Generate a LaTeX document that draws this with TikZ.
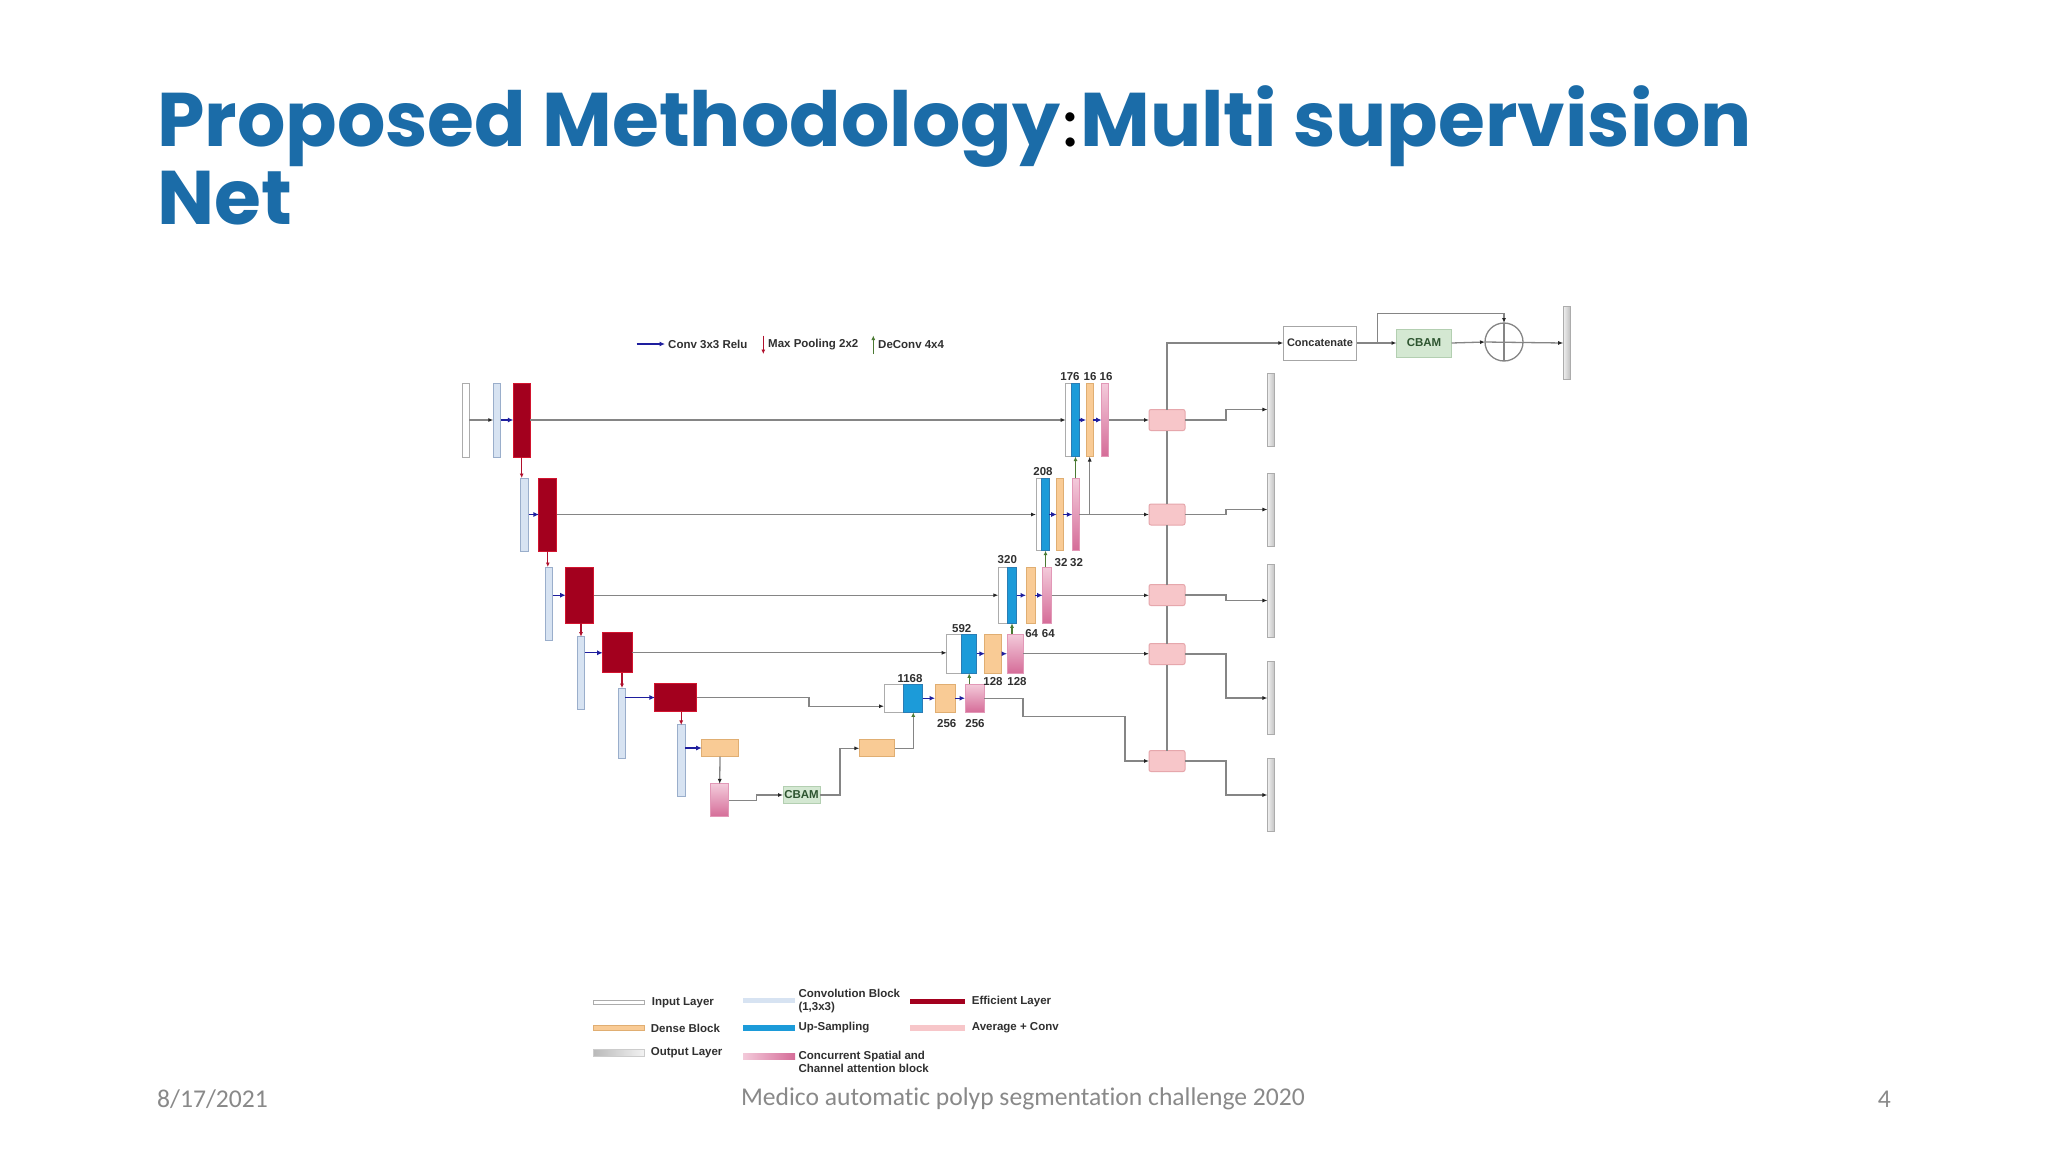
\documentclass[tikz,border=0pt]{standalone}
\usepackage{fontspec}
\setmainfont{Liberation Sans}
\newfontfamily\titlefont{Poppins}
\newfontfamily\footfont[Ligatures=NoCommon]{Carlito}
\usetikzlibrary{positioning, calc, arrows.meta}

\definecolor{titleblue}{HTML}{1B6CA8}
\definecolor{effred}{HTML}{A3001E}
\definecolor{effedge}{HTML}{D2142E}
\definecolor{convfill}{HTML}{D7E3F2}
\definecolor{convedge}{HTML}{9AAECB}
\definecolor{upfill}{HTML}{1C9BD9}
\definecolor{upedge}{HTML}{2A7DB5}
\definecolor{densefill}{HTML}{F9CB95}
\definecolor{denseedge}{HTML}{E0AE72}
\definecolor{csatop}{HTML}{F3CADA}
\definecolor{csabot}{HTML}{D56C98}
\definecolor{avgfill}{HTML}{F7C6C9}
\definecolor{avgedge}{HTML}{E6A7AC}
\definecolor{cbamfill}{HTML}{D4E8D2}
\definecolor{cbamedge}{HTML}{B3CFB1}
\definecolor{cbamtext}{HTML}{2E5530}
\definecolor{linegray}{HTML}{858585}
\definecolor{convarrow}{HTML}{1E1E9E}
\definecolor{poolarrow}{HTML}{B0102C}
\definecolor{deconvarrow}{HTML}{4B7A33}
\definecolor{txtgray}{HTML}{303030}
\definecolor{footgray}{HTML}{898989}

\tikzset{
  blk/.style={inner sep=0pt, outer sep=0pt, line width=1pt},
  inlayer/.style={blk, draw=gray!65, fill=white},
  convblk/.style={blk, draw=convedge, fill=convfill},
  efflayer/.style={blk, draw=effedge, fill=effred},
  denseblk/.style={blk, draw=denseedge, fill=densefill},
  upsamp/.style={blk, draw=upedge, fill=upfill},
  csablk/.style={blk, draw=csabot!70, top color=csatop, bottom color=csabot},
  avgconv/.style={blk, draw=avgedge, fill=avgfill, rounded corners=2pt},
  outlayer/.style={blk, draw=gray!65, left color=gray!12, right color=gray!50},
  cbamblk/.style={blk, draw=cbamedge, fill=cbamfill, text=cbamtext,
    font=\fontsize{11.5}{13}\selectfont\bfseries},
  lbl/.style={inner sep=0pt, text=txtgray, font=\fontsize{11.5}{13}\selectfont\bfseries},
  gwire/.style={draw=linegray, line width=1.3pt},
  garrow/.style={gwire, -{Latex[length=5pt,width=4pt,color=black!85]}},
  convarr/.style={draw=convarrow, line width=1.3pt, -{Latex[length=5.5pt,width=5pt]}},
  poolarr/.style={draw=poolarrow, line width=1.1pt, -{Latex[length=4.5pt,width=4pt]}},
  deconvarr/.style={draw=deconvarrow, line width=1.1pt, -{Latex[length=4.5pt,width=4pt]}},
  titletext/.style={anchor=base west, inner sep=0pt, text=titleblue,
    font=\titlefont\fontsize{76}{76}\selectfont\bfseries},
  footer/.style={inner sep=0pt, text=footgray, font=\footfont\fontsize{25.6}{30}\selectfont}
}

\begin{document}
\begin{tikzpicture}[x=1pt, y=-1pt]
\useasboundingbox[fill=white] (0,0) rectangle (2048,1152);

% title
\node[titletext] (title1) at (157,146)
  {Proposed Methodology{\color{black}\footfont\mdseries:}Multi supervision};
\node[titletext] (title2) at (157,224.6) {Net};

% legend on top
\coordinate (lga) at (636.7,344); \coordinate (lgb) at (665,344);
\draw[convarr] (lga) -- (lgb);
\node[lbl, anchor=west] (lgconv) at (668,344) {Conv 3x3 Relu};
\coordinate (lgc) at (763.3,335.5); \coordinate (lgd) at (763.3,354);
\draw[poolarr] (lgc) -- (lgd);
\node[lbl, anchor=west] (lgpool) at (768,345) {Max Pooling 2x2};
\coordinate (lge) at (873.3,354); \coordinate (lgf) at (873.3,335.5);
\draw[deconvarr] (lge) -- (lgf);
\node[lbl, anchor=west] (lgdeconv) at (878,345) {DeConv 4x4};

% encoder
\node[inlayer, minimum width=6.5, minimum height=74] (in0) at (466.2,420) {};
\node[convblk, minimum width=7.4, minimum height=74] (cv1) at (497,420) {};
\node[efflayer, minimum width=16.7, minimum height=74] (ef1) at (521.7,420) {};
\node[convblk, minimum width=8, minimum height=73] (cv2) at (524.7,514.5) {};
\node[efflayer, minimum width=17.7, minimum height=73] (ef2) at (547.8,514.5) {};
\node[convblk, minimum width=6.7, minimum height=73] (cv3) at (549.3,603.5) {};
\node[efflayer, minimum width=28.3, minimum height=56.3] (ef3) at (579.8,595.2) {};
\node[convblk, minimum width=7.4, minimum height=72.6] (cv4) at (581,673) {};
\node[efflayer, minimum width=29.6, minimum height=39.7] (ef4) at (617.5,652.8) {};
\node[convblk, minimum width=6.6, minimum height=70.3] (cv5) at (622,723.2) {};
\node[efflayer, minimum width=41.7, minimum height=28.4] (ef5) at (675.8,697.5) {};
\node[convblk, minimum width=7.7, minimum height=71.7] (cv6) at (681.2,760.8) {};
\node[denseblk, minimum width=36.6, minimum height=17.4] (bdense) at (720,748) {};
\node[csablk, minimum width=18, minimum height=32.7] (bcsa) at (719.7,800.3) {};
\node[cbamblk, minimum width=37, minimum height=16.6] (bcbam) at (801.5,795) {CBAM};
\node[denseblk, minimum width=35.4, minimum height=16.7] (bdense2) at (877,748.3) {};

\draw[garrow] (in0.east) -- (cv1.west);
\draw[convarr] (cv1.east) -- (ef1.west);
\draw[poolarr] (ef1.south) -- (ef1.south |- cv2.north);
\draw[convarr] (cv2.east) -- (ef2.west);
\draw[poolarr] (ef2.south) -- (ef2.south |- cv3.north);
\draw[convarr] (cv3.east |- ef3.west) -- (ef3.west);
\draw[poolarr] (cv4.north |- ef3.south) -- (cv4.north);
\draw[convarr] (cv4.east |- ef4.west) -- (ef4.west);
\draw[poolarr] (cv5.north |- ef4.south) -- (cv5.north);
\draw[convarr] (cv5.east |- ef5.west) -- (ef5.west);
\draw[poolarr] (cv6.north |- ef5.south) -- (cv6.north);
\draw[convarr] (cv6.east |- bdense.west) -- (bdense.west);
\draw[garrow] (bdense.south) -- (bcsa.north);
\draw[garrow] (bcsa.east) -- ++(28,0) |- (bcbam.west);
\draw[garrow] (bcbam.east) -- ++(20,0) |- (bdense2.west);

% decoder
\node[inlayer, minimum width=6, minimum height=73] (cat1) at (1068.7,420) {};
\node[upsamp, minimum width=7.6, minimum height=73] (up1) at (1075.5,420) {};
\node[denseblk, minimum width=7.3, minimum height=73] (dd1) at (1089.7,420) {};
\node[csablk, minimum width=7.3, minimum height=73] (ca1) at (1105.3,420) {};
\node[inlayer, minimum width=5.7, minimum height=72.4] (cat2) at (1038.9,514.5) {};
\node[upsamp, minimum width=7.6, minimum height=72.4] (up2) at (1045.5,514.5) {};
\node[denseblk, minimum width=6.6, minimum height=72.4] (dd2) at (1060,514.5) {};
\node[csablk, minimum width=7, minimum height=72.4] (ca2) at (1075.8,514.5) {};
\node[inlayer, minimum width=9, minimum height=56] (cat3) at (1002.8,595.3) {};
\node[upsamp, minimum width=9.4, minimum height=56] (up3) at (1012,595.3) {};
\node[denseblk, minimum width=9, minimum height=56] (dd3) at (1030.5,595.3) {};
\node[csablk, minimum width=9, minimum height=56] (ca3) at (1047.2,595.3) {};
\node[inlayer, minimum width=15, minimum height=39.3] (cat4) at (954.2,653.7) {};
\node[upsamp, minimum width=15, minimum height=39.3] (up4) at (969.2,653.7) {};
\node[denseblk, minimum width=16.7, minimum height=39.3] (dd4) at (993.3,653.7) {};
\node[csablk, minimum width=16, minimum height=39.3] (ca4) at (1015,653.7) {};
\node[inlayer, minimum width=20, minimum height=28.3] (cat5) at (894,698.2) {};
\node[upsamp, minimum width=18.7, minimum height=28.3] (up5) at (913.3,698.2) {};
\node[denseblk, minimum width=20, minimum height=28.3] (dd5) at (945,698.2) {};
\node[csablk, minimum width=19, minimum height=28.3] (ca5) at (974.5,698.2) {};

\node[lbl] (n176) at (1070,376.7) {176};
\node[lbl] (n16a) at (1090,377) {16};
\node[lbl] (n16b) at (1106,377) {16};
\node[lbl] (n208) at (1043,471.7) {208};
\node[lbl] (n32a) at (1061,562.5) {32};
\node[lbl] (n32b) at (1076.5,562.5) {32};
\node[lbl] (n320) at (1007.3,560) {320};
\node[lbl] (n64a) at (1031.7,633.3) {64};
\node[lbl] (n64b) at (1048.3,633.3) {64};
\node[lbl] (n592) at (961.7,629) {592};
\node[lbl] (n128a) at (993,681.7) {128};
\node[lbl] (n128b) at (1017,681.7) {128};
\node[lbl] (n1168) at (910,678.3) {1168};
\node[lbl] (n256a) at (946.7,723.3) {256};
\node[lbl] (n256b) at (975,723.3) {256};

% skip connections
\draw[garrow] (ef1.east) -- (cat1.west);
\draw[garrow] (ef2.east) -- (cat2.west);
\draw[garrow] (ef3.east) -- (ef3.east -| cat3.west);
\draw[garrow] (ef4.east) -- (ef4.east -| cat4.west);
\draw[garrow] (ef5.east) -- ++(112.3,0) |- ([yshift=-8pt]cat5.west);
\draw[gwire, -{Latex[length=4.5pt,width=4pt,color=deconvarrow]}] (bdense2.east) -| (up5.south);

\foreach \k in {1,...,5}{
  \draw[convarr] (up\k.east) -- (dd\k.west);
  \draw[convarr] (dd\k.east) -- (ca\k.west);
}
\draw[deconvarr] (up4.south |- ca5.north) -- (up4.south);
\draw[deconvarr] (up3.south |- ca4.north) -- (up3.south);
\draw[deconvarr] (up2.south |- ca3.north) -- (up2.south);
\draw[deconvarr] (up1.south |- ca2.north) -- (up1.south);

% multi supervision
\node[avgconv, minimum width=36, minimum height=21] (av1) at (1167,420) {};
\node[avgconv, minimum width=36, minimum height=21] (av2) at (1167,514.5) {};
\node[avgconv, minimum width=36, minimum height=21] (av3) at (1167,595) {};
\node[avgconv, minimum width=36, minimum height=21] (av4) at (1167,654) {};
\node[avgconv, minimum width=36, minimum height=21] (av5) at (1167,761) {};
\node[outlayer, minimum width=7.5, minimum height=73] (ot1) at (1271.2,409.5) {};
\node[outlayer, minimum width=7.5, minimum height=73] (ot2) at (1271.2,509.5) {};
\node[outlayer, minimum width=7.5, minimum height=73] (ot3) at (1271.2,600.5) {};
\node[outlayer, minimum width=7.5, minimum height=73] (ot4) at (1271.2,698) {};
\node[outlayer, minimum width=7.5, minimum height=73] (ot5) at (1271.2,795) {};

\draw[garrow] (ca1.east) -- (av1.west);
\draw[garrow] (ca2.east) -- (av2.west);
\draw[garrow] (dd1.south |- ca2.east) -- (dd1.south);
\draw[garrow] (ca3.east) -- (ca3.east -| av3.west);
\draw[garrow] (ca4.east) -- (ca4.east -| av4.west);
\draw[garrow] (ca5.east) -- ++(39,0) -- ++(0,18.5) -- ++(102,0) |- (av5.west);
\draw[gwire] (av5.north) -- (av4.south);
\draw[gwire] (av4.north) -- (av3.south);
\draw[gwire] (av3.north) -- (av2.south);
\draw[gwire] (av2.north) -- (av1.south);
\foreach \k in {1,...,5}
  \draw[garrow] (av\k.east) -- ++(41,0) |- (ot\k.west);

% fusion
\node[blk, draw=gray!70, fill=white, minimum width=73.4, minimum height=34,
  font=\fontsize{11}{13}\selectfont\bfseries, text=txtgray] (cc) at (1320,343) {Concatenate};
\node[cbamblk, minimum width=55, minimum height=28] (cbm) at (1424,343) {CBAM};
\node[blk, circle, draw=linegray, line width=1.3pt, minimum size=38] (ad) at (1504,342) {};
\node[outlayer, minimum width=7, minimum height=73] (fo) at (1566.7,343) {};
\draw[garrow] (av1.north) |- (cc.west);
\draw[garrow] (cc.east) -- (cbm.west);
\coordinate (sp) at ($(cc.east)!0.53!(cbm.west)$);
\draw[garrow] (sp) -- ++(0,-29.4) -| (ad.north);
\draw[garrow] (cbm.east) -- (ad.west);
\draw[gwire] (ad.north) -- (ad.south);
\draw[garrow] (ad.west) -- (fo.west);

% legend at the bottom
\node[inlayer, minimum width=51, minimum height=4.3] (swin) at (618.7,1002.2) {};
\node[denseblk, minimum width=51, minimum height=5.3] (swdense) at (618.7,1028.3) {};
\node[blk, draw=gray!40, left color=gray!55, right color=gray!10, minimum width=51, minimum height=6.7] (swout) at (618.7,1053.3) {};
\node[blk, fill=convfill, minimum width=52, minimum height=5] (swconv) at (769,1000.5) {};
\node[blk, fill=upfill, minimum width=52, minimum height=5.7] (swup) at (769,1027.8) {};
\node[blk, left color=csatop, right color=csabot, minimum width=52, minimum height=6] (swcsa) at (769,1056) {};
\node[blk, fill=effred, minimum width=55, minimum height=5] (sweff) at (937.5,1001.5) {};
\node[blk, fill=avgfill, minimum width=55, minimum height=6] (swavg) at (937.5,1028) {};
\node[lbl, anchor=west] (tin) at (651.7,1002.3) {Input Layer};
\node[lbl, anchor=west] (tdense) at (650.7,1028.3) {Dense Block};
\node[lbl, anchor=west] (tout) at (650.7,1053) {Output Layer};
\node[lbl, anchor=west, align=left] (tconv) at (798.3,1001.3) {Convolution Block\\(1,3x3)};
\node[lbl, anchor=west] (tup) at (798.3,1027.3) {Up-Sampling};
\node[lbl, anchor=west, align=left] (tcsa) at (798.3,1062.2) {Concurrent Spatial and\\Channel attention block};
\node[lbl, anchor=west] (teff) at (971.7,1001.7) {Efficient Layer};
\node[lbl, anchor=west] (tavg) at (971.7,1028) {Average + Conv};

% footer
\node[footer, anchor=west] (fdate) at (157,1099) {8/17/2021};
\node[footer] (fname) at (1023,1099) {Medico automatic polyp segmentation challenge 2020};
\node[footer, anchor=east] (fpage) at (1891,1099) {4};
\end{tikzpicture}
\end{document}
